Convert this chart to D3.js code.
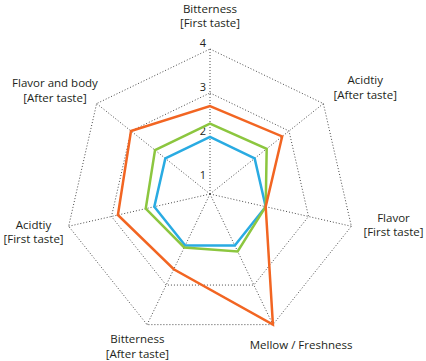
<!DOCTYPE html>
<html><head><meta charset="utf-8">
<script src="https://cdn.jsdelivr.net/npm/d3@7"></script>
<style>
html,body{margin:0;padding:0;background:#fff;}
svg text{font-family:"Open Sans","Noto Sans",sans-serif;fill:#231f20;}
</style></head>
<body><svg id="chart" width="426" height="361"></svg>
<script>
// ---- data ----
const categories = ["Bitterness", "Acidtiy", "Flavor", "Mellow / Freshness", "Bitterness", "Acidtiy", "Flavor and body"];
const phases = ["[First taste]", "[After taste]", "[First taste]", "", "[After taste]", "[First taste]", "[After taste]"];
const seriesOrange = [2.7, 2.8, 2.0, 4.0, 2.6, 2.85, 3.0];
const seriesGreen  = [2.3, 2.35, 2.0, 2.15, 2.05, 2.2, 2.3];
const seriesBlue   = [2.0, 2.0, 2.0, 2.0, 2.0, 2.0, 2.0];
const tickValues = [1, 2, 3, 4];
const ringValues = [3, 4];

// ---- layout ----
const cx = 210, cy = 194, R = 145;
const labelNudge = [[0, 2], [10, -2], [4, -7], [2, 5], [8, 0], [3, 0], [-1, 1]];
const svg = d3.select("#chart");
const n = categories.length;
const angle = d3.scaleLinear().domain([0, n]).range([0, 2 * Math.PI]);
const r = d3.scaleLinear().domain([0.7, 4]).range([0, R]);
const pt = (i, v) => [cx + Math.sin(angle(i)) * r(v), cy - Math.cos(angle(i)) * r(v)];

const g = svg.append("g");
const dotted = sel => sel.attr("fill", "none").attr("stroke", "#4a4a4a").attr("stroke-width", 1).attr("stroke-dasharray", "1,2");

// rings
g.selectAll("path.ring").data(ringValues).join("path").attr("class", "ring")
  .attr("d", v => d3.line()(d3.range(n).map(i => pt(i, v))) + "Z")
  .call(dotted);
// spokes
g.selectAll("line.spoke").data(d3.range(n)).join("line").attr("class", "spoke")
  .attr("x1", cx).attr("y1", cy)
  .attr("x2", i => pt(i, 4)[0]).attr("y2", i => pt(i, 4)[1])
  .call(dotted);

// tick labels
g.selectAll("text.tick").data(tickValues).join("text").attr("class", "tick")
  .attr("x", cx - 7).attr("y", v => cy - r(v) - 6)
  .attr("dy", "0.35em").attr("text-anchor", "middle")
  .attr("font-size", 11).text(d => d);

// series
const series = [
  {vals: seriesBlue, color: "#29abe2"},
  {vals: seriesGreen, color: "#8cc63f"},
  {vals: seriesOrange, color: "#f26522"}
];
g.selectAll("path.series").data(series).join("path").attr("class", "series")
  .attr("d", s => d3.line()(s.vals.map((v, i) => pt(i, v))) + "Z")
  .attr("fill", "none").attr("stroke", s => s.color).attr("stroke-width", 2.5)
  .attr("stroke-linejoin", "miter");

// axis labels
const fs = 11.5, lh = 14.5, gap = 9;
categories.forEach((c, i) => {
  const lines = phases[i] ? [c, phases[i]] : [c];
  const t = g.append("text").attr("font-size", fs).attr("text-anchor", "middle");
  lines.forEach((l, k) => t.append("tspan").attr("x", 0).attr("y", k * lh).text(l));
  const bb = t.node().getBBox();
  const dx = Math.sin(angle(i)), dy = -Math.cos(angle(i));
  const px = cx + dx * (R + gap), py = cy + dy * (R + gap);
  const ccx = px + dx * bb.width / 2 + labelNudge[i][0];
  const ccy = py + dy * bb.height / 2 + (i === 0 ? -12 : 0) + labelNudge[i][1];
  const bcy = bb.y + bb.height / 2;
  t.attr("transform", `translate(${ccx},${ccy - bcy})`);
});
</script></body></html>
